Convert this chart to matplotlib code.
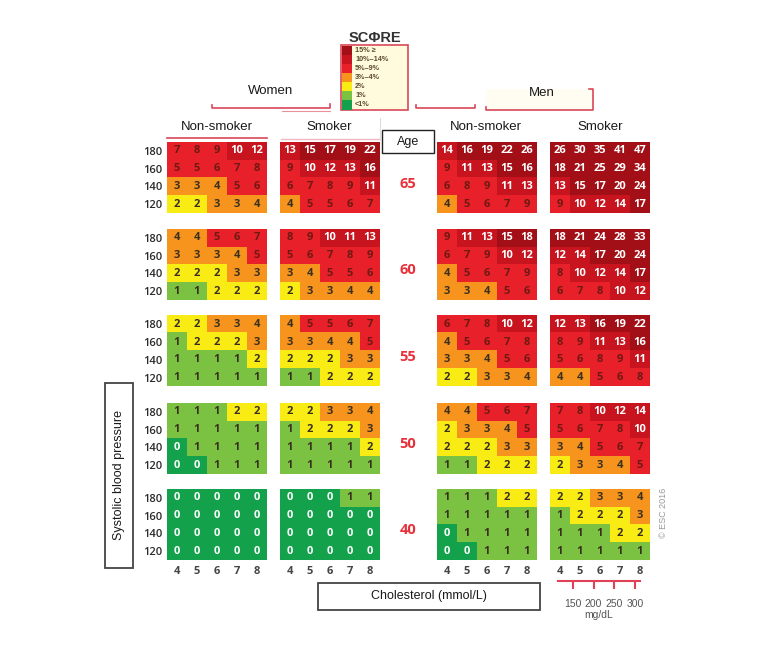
import numpy as np
import matplotlib
matplotlib.use("Agg")
import matplotlib.pyplot as plt
from matplotlib.colors import ListedColormap, BoundaryNorm
from matplotlib.patches import Rectangle

# ---------------- data ----------------
ages = [65, 60, 55, 50, 40]
sbp = [180, 160, 140, 120]
chol = [4, 5, 6, 7, 8]
mgdl = [150, 200, 250, 300]
group_titles = ["Non-smoker", "Smoker", "Non-smoker", "Smoker"]

women_nonsmoker = [
    [[7, 8, 9, 10, 12], [5, 5, 6, 7, 8], [3, 3, 4, 5, 6], [2, 2, 3, 3, 4]],
    [[4, 4, 5, 6, 7], [3, 3, 3, 4, 5], [2, 2, 2, 3, 3], [1, 1, 2, 2, 2]],
    [[2, 2, 3, 3, 4], [1, 2, 2, 2, 3], [1, 1, 1, 1, 2], [1, 1, 1, 1, 1]],
    [[1, 1, 1, 2, 2], [1, 1, 1, 1, 1], [0, 1, 1, 1, 1], [0, 0, 1, 1, 1]],
    [[0, 0, 0, 0, 0], [0, 0, 0, 0, 0], [0, 0, 0, 0, 0], [0, 0, 0, 0, 0]],
]
women_smoker = [
    [[13, 15, 17, 19, 22], [9, 10, 12, 13, 16], [6, 7, 8, 9, 11], [4, 5, 5, 6, 7]],
    [[8, 9, 10, 11, 13], [5, 6, 7, 8, 9], [3, 4, 5, 5, 6], [2, 3, 3, 4, 4]],
    [[4, 5, 5, 6, 7], [3, 3, 4, 4, 5], [2, 2, 2, 3, 3], [1, 1, 2, 2, 2]],
    [[2, 2, 3, 3, 4], [1, 2, 2, 2, 3], [1, 1, 1, 1, 2], [1, 1, 1, 1, 1]],
    [[0, 0, 0, 1, 1], [0, 0, 0, 0, 0], [0, 0, 0, 0, 0], [0, 0, 0, 0, 0]],
]
men_nonsmoker = [
    [[14, 16, 19, 22, 26], [9, 11, 13, 15, 16], [6, 8, 9, 11, 13], [4, 5, 6, 7, 9]],
    [[9, 11, 13, 15, 18], [6, 7, 9, 10, 12], [4, 5, 6, 7, 9], [3, 3, 4, 5, 6]],
    [[6, 7, 8, 10, 12], [4, 5, 6, 7, 8], [3, 3, 4, 5, 6], [2, 2, 3, 3, 4]],
    [[4, 4, 5, 6, 7], [2, 3, 3, 4, 5], [2, 2, 2, 3, 3], [1, 1, 2, 2, 2]],
    [[1, 1, 1, 2, 2], [1, 1, 1, 1, 1], [0, 1, 1, 1, 1], [0, 0, 1, 1, 1]],
]
men_smoker = [
    [[26, 30, 35, 41, 47], [18, 21, 25, 29, 34], [13, 15, 17, 20, 24], [9, 10, 12, 14, 17]],
    [[18, 21, 24, 28, 33], [12, 14, 17, 20, 24], [8, 10, 12, 14, 17], [6, 7, 8, 10, 12]],
    [[12, 13, 16, 19, 22], [8, 9, 11, 13, 16], [5, 6, 8, 9, 11], [4, 4, 5, 6, 8]],
    [[7, 8, 10, 12, 14], [5, 6, 7, 8, 10], [3, 4, 5, 6, 7], [2, 3, 3, 4, 5]],
    [[2, 2, 3, 3, 4], [1, 2, 2, 2, 3], [1, 1, 1, 2, 2], [1, 1, 1, 1, 1]],
]
groups = [women_nonsmoker, women_smoker, men_nonsmoker, men_smoker]

risk_bounds = [-0.5, 0.5, 1.5, 2.5, 4.5, 9.5, 14.5, 100]
risk_colors = ["#13a14b", "#7cc242", "#f8ec14", "#f7941d", "#e8202a", "#c8141e", "#a20f16"]
legend_labels = ["<1%", "1%", "2%", "3%\u20134%", "5%\u20139%", "10%\u201314%", "15% \u2265"]

# ---------------- layout ----------------
W, H = 771, 652
fig = plt.figure(figsize=(W / 100, H / 100), dpi=100)
fig.patch.set_facecolor("white")

def px_axes(x0, y0, w, h, **kw):
    return fig.add_axes([x0 / W, 1 - (y0 + h) / H, w / W, h / H], **kw)

overlay = px_axes(0, 0, W, H)
overlay.set_xlim(0, W)
overlay.set_ylim(H, 0)
overlay.axis("off")

col_x = [166.5, 279.5, 436.5, 550]
row_y = [142, 229, 315.5, 403, 489]
bw, bh = 100, 71

cmap = ListedColormap(risk_colors)
norm = BoundaryNorm(risk_bounds, cmap.N)

def text_color(v):
    if v == 0 or v >= 10:
        return "white"
    if v >= 5:
        return "#6e1a12"
    return "#3a3020"

cell_font = dict(family=["Open Sans", "DejaVu Sans"], fontweight="bold", fontsize=8)
lab_font = dict(family=["Liberation Sans", "DejaVu Sans"])

for gi, group in enumerate(groups):
    for ai, block in enumerate(group):
        ax = px_axes(col_x[gi], row_y[ai], bw, bh)
        arr = np.array(block)
        ax.imshow(arr, cmap=cmap, norm=norm, aspect="auto",
                  extent=(3.5, 8.5, -0.5, 3.5), interpolation="nearest")
        for r in range(arr.shape[0]):
            for c in range(arr.shape[1]):
                ax.text(chol[c], 3 - r, str(arr[r, c]), ha="center", va="center",
                        color=text_color(arr[r, c]), **cell_font)
        for s in ax.spines.values():
            s.set_visible(False)
        ax.tick_params(length=0)
        if gi == 0:
            ax.set_yticks([3, 2, 1, 0])
            ax.set_yticklabels([str(v) for v in sbp], fontsize=8, color="#2a2a2a",
                               family=["Open Sans", "DejaVu Sans"], fontweight="semibold")
            ax.tick_params(axis="y", pad=3)
        else:
            ax.set_yticks([])
        if ai == len(group) - 1:
            ax.set_xticks(chol)
            ax.set_xticklabels([str(v) for v in chol], fontsize=8, color="#444444",
                               family=["Open Sans", "DejaVu Sans"], fontweight="bold")
            ax.tick_params(axis="x", pad=4)
        else:
            ax.set_xticks([])

# age labels
for ai, age in enumerate(ages):
    overlay.text(408, row_y[ai] + bh / 2 + 6, str(age), ha="center", va="center",
                 color="#e8303a", fontsize=10.5, fontweight="bold",
                 family=["Open Sans", "DejaVu Sans"])

# group titles
title_x = [217, 329, 486, 600]
for t, x in zip(group_titles, title_x):
    overlay.text(x, 127, t, ha="center", va="center", fontsize=9.5, color="#1a1a1a", **lab_font)

pink = "#d9475a"
overlay.plot([167, 267], [137.5, 137.5], color=pink, lw=1.2)
overlay.plot([281, 380], [139, 139], color="#f0b8c0", lw=1.0)
overlay.plot([380, 380], [118, 140], color="#dddddd", lw=0.8)

# Women / Men headers
overlay.text(271, 91, "Women", ha="center", va="center", fontsize=9.5, color="#1a1a1a", **lab_font)
overlay.text(542, 93, "Men", ha="center", va="center", fontsize=9.5, color="#1a1a1a", **lab_font)
overlay.add_patch(Rectangle((486, 89), 107, 21, facecolor="#fffdf2", edgecolor="none", zorder=0))
overlay.plot([212, 212, 330, 330], [105, 108, 108, 104], color=pink, lw=1.2)
overlay.plot([282, 330], [110.5, 110.5], color=pink, lw=0.8, alpha=0.6)
overlay.plot([416, 416, 475, 475], [105, 108, 108, 105], color=pink, lw=1.2)
overlay.plot([486, 486, 593, 593, 589], [107, 110, 110, 89, 89], color=pink, lw=1.2)

# SCORE logo and legend
overlay.text(375, 38, "SC\u03A6RE", ha="center", va="center", fontsize=10.5,
             fontweight="bold", color="#333333", **lab_font)
overlay.add_patch(Rectangle((341, 45), 67, 65, facecolor="#fffbdc", edgecolor=pink, lw=1.2, zorder=1))
n = len(risk_colors)
sh = 64 / n
for i in range(n):
    k = n - 1 - i
    y = 45.5 + i * sh
    overlay.add_patch(Rectangle((341.5, y), 10.5, sh, facecolor=risk_colors[k], edgecolor="none", zorder=2))
    overlay.text(355, y + sh / 2, legend_labels[k], ha="left", va="center", fontsize=5.2,
                 color="#5a4a2a", fontweight="bold", zorder=3, **lab_font)

# Age box
overlay.add_patch(Rectangle((382, 130), 52, 23, facecolor="white", edgecolor="#222222", lw=1.0))
overlay.text(408, 141.5, "Age", ha="center", va="center", fontsize=9, color="#1a1a1a", **lab_font)

# Systolic blood pressure box
overlay.add_patch(Rectangle((105, 383), 28, 185, facecolor="white", edgecolor="#444444", lw=1.3))
overlay.text(119, 475, "Systolic blood pressure", ha="center", va="center", rotation=90,
             fontsize=9, color="#1a1a1a", **lab_font)

# Cholesterol box
overlay.add_patch(Rectangle((318, 583), 222, 27, facecolor="white", edgecolor="#444444", lw=1.3))
overlay.text(429, 596.5, "Cholesterol (mmol/L)", ha="center", va="center",
             fontsize=9, color="#1a1a1a", **lab_font)

# mg/dL scale
sax = px_axes(558, 580, 82, 1)
sax.set_xlim(114, 312)
sax.set_ylim(0, 1)
for k, s in sax.spines.items():
    s.set_visible(k == "bottom")
sax.spines["bottom"].set_color("#e0405a")
sax.spines["bottom"].set_linewidth(1.5)
sax.set_yticks([])
sax.set_xticks(mgdl)
sax.set_xticklabels([str(v) for v in mgdl], fontsize=7.5, color="#555555", **lab_font)
sax.tick_params(axis="x", direction="out", length=6, width=1.5, color="#e0405a", pad=7)
sax.set_xlabel("mg/dL", fontsize=7.5, color="#555555", labelpad=1, **lab_font)
sax.patch.set_alpha(0)

# copyright
overlay.text(663, 513, "\u00a9 ESC 2016", ha="center", va="center", rotation=90,
             fontsize=6.5, color="#999999", **lab_font)

fig.savefig("out.png", dpi=100, facecolor="white")
